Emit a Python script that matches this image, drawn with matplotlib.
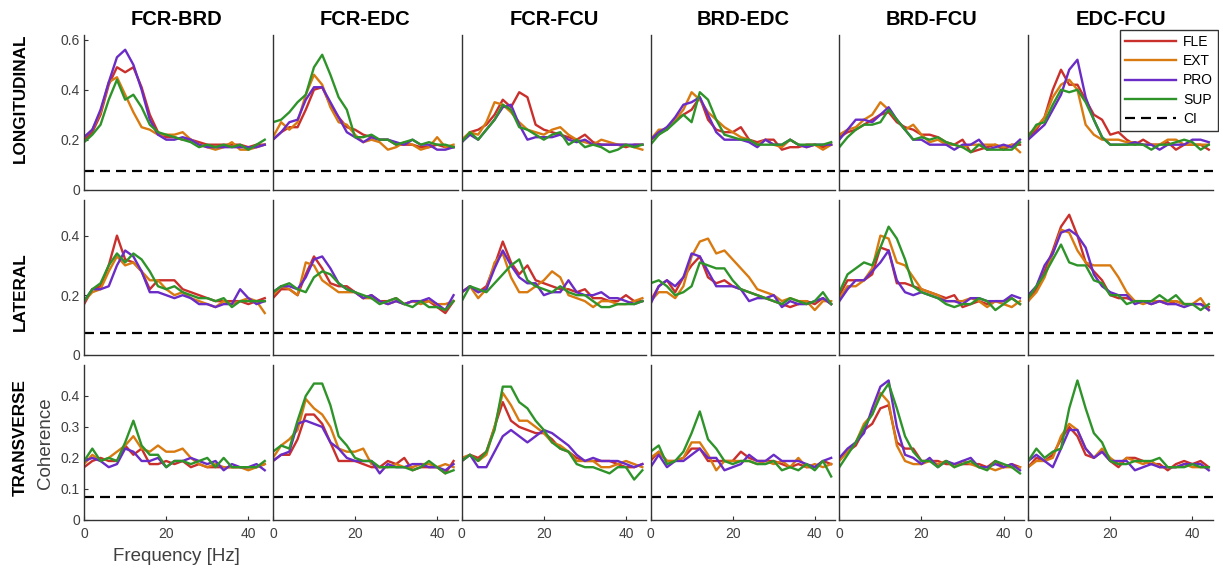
import numpy as np
import matplotlib.pyplot as plt

plt.rcParams['font.family'] = ['Liberation Sans', 'DejaVu Sans']

# frequency axis (Hz), sampled every 2 Hz
freq = np.arange(0, 45, 2)

pairs = ['FCR-BRD', 'FCR-EDC', 'FCR-FCU', 'BRD-EDC', 'BRD-FCU', 'EDC-FCU']
directions = ['LONGITUDINAL', 'LATERAL', 'TRANSVERSE']
conditions = ['FLE', 'EXT', 'PRO', 'SUP']
ci_level = 0.073

# LONGITUDINAL: one list per muscle pair (columns)
long_fle = [
    [0.20,0.23,0.30,0.42,0.49,0.47,0.49,0.41,0.30,0.23,0.21,0.21,0.20,0.20,0.19,0.18,0.18,0.18,0.18,0.18,0.17,0.18,0.18],
    [0.20,0.23,0.25,0.25,0.32,0.40,0.41,0.34,0.29,0.25,0.24,0.22,0.21,0.20,0.20,0.18,0.18,0.18,0.17,0.17,0.18,0.17,0.17],
    [0.19,0.23,0.24,0.26,0.30,0.36,0.33,0.39,0.37,0.26,0.24,0.23,0.22,0.21,0.20,0.22,0.19,0.18,0.18,0.18,0.17,0.18,0.18],
    [0.20,0.22,0.25,0.28,0.30,0.32,0.37,0.28,0.24,0.23,0.23,0.25,0.20,0.19,0.20,0.20,0.16,0.17,0.17,0.18,0.18,0.17,0.18],
    [0.21,0.23,0.24,0.26,0.28,0.30,0.31,0.27,0.25,0.24,0.22,0.22,0.21,0.19,0.18,0.20,0.15,0.16,0.17,0.18,0.16,0.18,0.18],
    [0.21,0.24,0.29,0.40,0.48,0.42,0.42,0.36,0.30,0.28,0.22,0.23,0.20,0.18,0.20,0.18,0.18,0.19,0.16,0.18,0.18,0.18,0.16],
]
long_ext = [
    [0.21,0.24,0.31,0.43,0.45,0.38,0.31,0.25,0.24,0.22,0.22,0.22,0.23,0.20,0.18,0.17,0.16,0.17,0.19,0.16,0.16,0.17,0.18],
    [0.21,0.27,0.24,0.27,0.38,0.46,0.42,0.33,0.27,0.26,0.22,0.19,0.20,0.19,0.16,0.17,0.19,0.18,0.16,0.17,0.21,0.17,0.18],
    [0.20,0.23,0.22,0.27,0.35,0.34,0.31,0.27,0.24,0.23,0.22,0.24,0.25,0.22,0.20,0.19,0.18,0.20,0.19,0.18,0.18,0.17,0.16],
    [0.20,0.24,0.24,0.28,0.32,0.39,0.36,0.31,0.28,0.25,0.23,0.21,0.20,0.18,0.20,0.18,0.17,0.20,0.18,0.17,0.18,0.16,0.18],
    [0.22,0.24,0.25,0.28,0.30,0.35,0.32,0.28,0.24,0.26,0.22,0.19,0.20,0.18,0.18,0.17,0.18,0.18,0.18,0.18,0.17,0.18,0.15],
    [0.22,0.25,0.29,0.37,0.42,0.44,0.40,0.26,0.22,0.20,0.20,0.20,0.19,0.19,0.18,0.18,0.18,0.20,0.20,0.18,0.18,0.18,0.18],
]
long_pro = [
    [0.21,0.24,0.32,0.43,0.53,0.56,0.50,0.40,0.28,0.22,0.20,0.20,0.21,0.20,0.18,0.17,0.17,0.17,0.17,0.17,0.17,0.17,0.18],
    [0.20,0.23,0.27,0.28,0.36,0.41,0.41,0.35,0.29,0.23,0.21,0.19,0.21,0.20,0.20,0.19,0.18,0.20,0.18,0.18,0.16,0.16,0.17],
    [0.19,0.22,0.20,0.24,0.28,0.33,0.34,0.26,0.20,0.21,0.21,0.21,0.22,0.20,0.19,0.20,0.18,0.18,0.18,0.18,0.18,0.18,0.18],
    [0.20,0.23,0.25,0.29,0.34,0.35,0.37,0.30,0.23,0.20,0.20,0.20,0.19,0.17,0.20,0.18,0.18,0.20,0.18,0.17,0.18,0.18,0.18],
    [0.20,0.24,0.28,0.28,0.27,0.30,0.33,0.28,0.24,0.20,0.20,0.18,0.18,0.18,0.16,0.18,0.18,0.20,0.16,0.17,0.18,0.17,0.20],
    [0.20,0.23,0.26,0.32,0.38,0.48,0.52,0.37,0.28,0.21,0.18,0.18,0.18,0.19,0.18,0.18,0.16,0.18,0.18,0.18,0.20,0.20,0.19],
]
long_sup = [
    [0.19,0.22,0.26,0.36,0.44,0.36,0.38,0.33,0.26,0.23,0.22,0.21,0.20,0.19,0.17,0.18,0.17,0.18,0.17,0.18,0.16,0.18,0.20],
    [0.27,0.28,0.31,0.35,0.38,0.49,0.54,0.46,0.37,0.32,0.21,0.21,0.22,0.20,0.20,0.18,0.19,0.20,0.18,0.19,0.18,0.18,0.17],
    [0.19,0.23,0.20,0.24,0.28,0.34,0.32,0.25,0.24,0.22,0.20,0.22,0.23,0.18,0.20,0.17,0.18,0.17,0.15,0.16,0.18,0.17,0.18],
    [0.18,0.22,0.24,0.27,0.30,0.27,0.39,0.36,0.28,0.22,0.21,0.20,0.20,0.18,0.18,0.18,0.18,0.20,0.18,0.18,0.18,0.18,0.19],
    [0.17,0.21,0.24,0.26,0.26,0.27,0.32,0.28,0.24,0.20,0.21,0.20,0.21,0.19,0.18,0.17,0.15,0.18,0.16,0.16,0.16,0.16,0.19],
    [0.21,0.26,0.27,0.34,0.40,0.39,0.40,0.35,0.28,0.21,0.18,0.18,0.18,0.18,0.18,0.16,0.18,0.18,0.19,0.20,0.19,0.16,0.18],
]

# LATERAL
lat_fle = [
    [0.17,0.22,0.23,0.30,0.40,0.32,0.31,0.28,0.22,0.25,0.25,0.25,0.22,0.21,0.20,0.19,0.18,0.18,0.18,0.18,0.17,0.18,0.19],
    [0.19,0.22,0.22,0.20,0.27,0.33,0.29,0.24,0.23,0.23,0.21,0.19,0.20,0.18,0.18,0.19,0.17,0.18,0.18,0.18,0.16,0.14,0.18],
    [0.21,0.23,0.21,0.23,0.30,0.38,0.31,0.27,0.30,0.25,0.24,0.23,0.22,0.22,0.21,0.22,0.19,0.19,0.18,0.18,0.20,0.18,0.18],
    [0.18,0.23,0.25,0.21,0.26,0.30,0.33,0.26,0.24,0.25,0.23,0.22,0.21,0.20,0.19,0.18,0.17,0.16,0.17,0.18,0.17,0.19,0.17],
    [0.20,0.25,0.25,0.25,0.27,0.36,0.35,0.24,0.24,0.23,0.22,0.21,0.20,0.19,0.20,0.16,0.17,0.18,0.17,0.18,0.18,0.19,0.17],
    [0.18,0.22,0.28,0.35,0.43,0.47,0.40,0.31,0.28,0.25,0.20,0.19,0.19,0.18,0.18,0.17,0.18,0.17,0.18,0.17,0.17,0.17,0.16],
]
lat_ext = [
    [0.18,0.21,0.22,0.28,0.33,0.30,0.31,0.28,0.25,0.25,0.22,0.20,0.21,0.19,0.18,0.17,0.16,0.18,0.17,0.18,0.19,0.18,0.14],
    [0.20,0.23,0.22,0.20,0.31,0.30,0.25,0.23,0.21,0.21,0.21,0.19,0.19,0.18,0.17,0.18,0.17,0.18,0.17,0.18,0.17,0.17,0.18],
    [0.21,0.23,0.19,0.22,0.31,0.34,0.26,0.21,0.21,0.23,0.25,0.28,0.26,0.20,0.19,0.18,0.16,0.18,0.18,0.17,0.17,0.18,0.19],
    [0.18,0.21,0.21,0.19,0.23,0.33,0.38,0.39,0.34,0.35,0.32,0.29,0.26,0.22,0.21,0.20,0.18,0.19,0.18,0.18,0.15,0.18,0.18],
    [0.19,0.23,0.23,0.25,0.29,0.40,0.39,0.31,0.30,0.26,0.22,0.21,0.20,0.18,0.18,0.18,0.19,0.18,0.16,0.18,0.17,0.16,0.18],
    [0.18,0.21,0.26,0.34,0.42,0.41,0.35,0.31,0.30,0.30,0.30,0.26,0.21,0.18,0.17,0.18,0.18,0.18,0.18,0.17,0.17,0.19,0.15],
]
lat_pro = [
    [0.18,0.22,0.22,0.23,0.30,0.35,0.33,0.28,0.21,0.21,0.20,0.19,0.20,0.19,0.17,0.17,0.16,0.17,0.17,0.22,0.19,0.17,0.18],
    [0.21,0.23,0.23,0.22,0.26,0.32,0.33,0.29,0.24,0.22,0.21,0.19,0.20,0.18,0.17,0.18,0.17,0.18,0.18,0.19,0.17,0.15,0.20],
    [0.21,0.23,0.21,0.22,0.29,0.35,0.30,0.26,0.24,0.24,0.20,0.21,0.21,0.25,0.21,0.20,0.20,0.21,0.19,0.19,0.18,0.17,0.18],
    [0.17,0.23,0.25,0.23,0.26,0.34,0.33,0.28,0.23,0.23,0.23,0.22,0.18,0.19,0.19,0.20,0.16,0.18,0.17,0.17,0.18,0.19,0.17],
    [0.18,0.22,0.25,0.25,0.28,0.31,0.35,0.25,0.21,0.20,0.21,0.20,0.19,0.18,0.18,0.17,0.19,0.19,0.18,0.18,0.18,0.20,0.19],
    [0.20,0.23,0.30,0.34,0.41,0.42,0.40,0.36,0.27,0.23,0.21,0.20,0.20,0.17,0.18,0.17,0.18,0.17,0.17,0.16,0.17,0.17,0.15],
]
lat_sup = [
    [0.18,0.22,0.24,0.30,0.34,0.31,0.34,0.32,0.28,0.23,0.22,0.23,0.21,0.20,0.19,0.19,0.18,0.19,0.16,0.18,0.18,0.18,0.18],
    [0.21,0.23,0.24,0.22,0.21,0.26,0.28,0.27,0.24,0.22,0.21,0.20,0.19,0.17,0.18,0.19,0.17,0.16,0.18,0.16,0.16,0.15,0.18],
    [0.18,0.23,0.22,0.21,0.24,0.27,0.30,0.32,0.25,0.23,0.22,0.21,0.23,0.21,0.20,0.20,0.18,0.16,0.16,0.17,0.17,0.17,0.18],
    [0.24,0.25,0.23,0.20,0.21,0.23,0.31,0.30,0.29,0.29,0.25,0.22,0.21,0.20,0.19,0.18,0.17,0.19,0.18,0.17,0.18,0.21,0.17],
    [0.21,0.27,0.29,0.31,0.30,0.36,0.43,0.39,0.32,0.23,0.21,0.20,0.19,0.17,0.16,0.17,0.17,0.19,0.18,0.15,0.17,0.19,0.17],
    [0.19,0.23,0.27,0.32,0.37,0.31,0.30,0.30,0.25,0.24,0.20,0.20,0.17,0.18,0.18,0.18,0.20,0.18,0.20,0.17,0.17,0.15,0.17],
]

# TRANSVERSE
trans_fle = [
    [0.17,0.19,0.20,0.19,0.19,0.24,0.21,0.23,0.18,0.18,0.19,0.18,0.19,0.17,0.18,0.17,0.17,0.17,0.17,0.17,0.17,0.17,0.18],
    [0.19,0.21,0.21,0.26,0.34,0.34,0.31,0.25,0.19,0.19,0.19,0.18,0.17,0.17,0.19,0.18,0.20,0.16,0.17,0.17,0.17,0.15,0.19],
    [0.19,0.21,0.20,0.22,0.30,0.38,0.32,0.30,0.29,0.28,0.28,0.26,0.23,0.22,0.20,0.19,0.19,0.19,0.19,0.18,0.17,0.17,0.18],
    [0.19,0.22,0.19,0.19,0.20,0.23,0.23,0.19,0.19,0.19,0.19,0.22,0.20,0.19,0.19,0.19,0.18,0.17,0.18,0.17,0.17,0.19,0.18],
    [0.20,0.22,0.24,0.29,0.31,0.36,0.37,0.25,0.23,0.23,0.19,0.19,0.19,0.18,0.18,0.18,0.18,0.18,0.17,0.19,0.17,0.18,0.17],
    [0.17,0.20,0.19,0.21,0.26,0.30,0.27,0.21,0.20,0.22,0.19,0.17,0.20,0.20,0.19,0.18,0.18,0.16,0.18,0.19,0.18,0.19,0.17],
]
trans_ext = [
    [0.18,0.21,0.19,0.20,0.22,0.24,0.27,0.23,0.22,0.24,0.22,0.22,0.23,0.20,0.18,0.17,0.18,0.17,0.17,0.17,0.16,0.17,0.18],
    [0.20,0.24,0.26,0.29,0.39,0.36,0.34,0.30,0.23,0.22,0.22,0.23,0.18,0.17,0.17,0.18,0.17,0.17,0.18,0.18,0.17,0.18,0.17],
    [0.20,0.21,0.19,0.21,0.30,0.41,0.37,0.32,0.32,0.30,0.28,0.25,0.24,0.22,0.19,0.19,0.19,0.17,0.17,0.18,0.19,0.18,0.17],
    [0.20,0.22,0.19,0.19,0.20,0.25,0.25,0.21,0.16,0.19,0.19,0.19,0.19,0.18,0.19,0.18,0.19,0.17,0.20,0.17,0.18,0.17,0.18],
    [0.19,0.22,0.25,0.31,0.34,0.41,0.38,0.24,0.19,0.18,0.18,0.19,0.18,0.19,0.17,0.19,0.18,0.17,0.17,0.16,0.17,0.17,0.17],
    [0.17,0.19,0.19,0.20,0.27,0.31,0.29,0.23,0.20,0.23,0.20,0.18,0.20,0.19,0.18,0.19,0.17,0.17,0.17,0.18,0.17,0.17,0.17],
]
trans_pro = [
    [0.19,0.20,0.19,0.17,0.18,0.23,0.22,0.19,0.19,0.20,0.17,0.19,0.19,0.20,0.19,0.18,0.19,0.16,0.18,0.17,0.17,0.18,0.16],
    [0.19,0.21,0.22,0.31,0.32,0.31,0.30,0.25,0.23,0.20,0.19,0.19,0.19,0.15,0.18,0.17,0.17,0.18,0.18,0.17,0.17,0.16,0.18],
    [0.19,0.21,0.17,0.17,0.22,0.27,0.29,0.27,0.25,0.27,0.29,0.28,0.26,0.24,0.21,0.19,0.20,0.19,0.19,0.19,0.18,0.17,0.18],
    [0.17,0.21,0.17,0.19,0.19,0.21,0.23,0.20,0.20,0.16,0.17,0.18,0.21,0.19,0.19,0.21,0.19,0.19,0.19,0.18,0.17,0.19,0.20],
    [0.20,0.23,0.25,0.28,0.36,0.43,0.45,0.30,0.21,0.20,0.18,0.20,0.17,0.19,0.18,0.19,0.20,0.17,0.17,0.18,0.17,0.18,0.16],
    [0.19,0.21,0.19,0.17,0.23,0.29,0.29,0.23,0.20,0.22,0.19,0.19,0.19,0.16,0.17,0.18,0.17,0.17,0.17,0.18,0.18,0.18,0.16],
]
trans_sup = [
    [0.19,0.23,0.19,0.20,0.19,0.25,0.32,0.24,0.21,0.21,0.17,0.19,0.19,0.18,0.19,0.20,0.17,0.20,0.17,0.17,0.17,0.17,0.19],
    [0.22,0.24,0.23,0.32,0.40,0.44,0.44,0.37,0.27,0.24,0.20,0.19,0.19,0.17,0.17,0.17,0.17,0.16,0.17,0.19,0.17,0.15,0.16],
    [0.19,0.21,0.19,0.22,0.29,0.43,0.43,0.38,0.36,0.32,0.29,0.25,0.23,0.22,0.18,0.17,0.17,0.16,0.15,0.17,0.17,0.13,0.16],
    [0.22,0.24,0.18,0.19,0.22,0.28,0.35,0.26,0.23,0.19,0.18,0.19,0.19,0.18,0.18,0.19,0.16,0.17,0.16,0.18,0.16,0.19,0.14],
    [0.17,0.21,0.25,0.30,0.34,0.40,0.44,0.36,0.27,0.22,0.19,0.19,0.17,0.19,0.17,0.18,0.19,0.17,0.16,0.19,0.18,0.17,0.15],
    [0.19,0.23,0.20,0.22,0.23,0.36,0.45,0.36,0.28,0.25,0.19,0.18,0.18,0.19,0.19,0.19,0.20,0.17,0.17,0.17,0.18,0.17,0.17],
]

rows = [
    [long_fle, long_ext, long_pro, long_sup],
    [lat_fle, lat_ext, lat_pro, lat_sup],
    [trans_fle, trans_ext, trans_pro, trans_sup],
]
colors = ['#C9302C', '#D97A10', '#6A2CC6', '#2E942A']
row_ylim = [0.62, 0.52, 0.50]
row_yticks = [[0, 0.2, 0.4, 0.6], [0, 0.2, 0.4], [0, 0.1, 0.2, 0.3, 0.4]]
axis_col = '#333333'
text_col = '#404040'

fig, axes = plt.subplots(3, 6, figsize=(12.19, 5.70), dpi=100)
fig.subplots_adjust(left=0.069, right=0.995, top=0.939, bottom=0.088,
                    wspace=0.022, hspace=0.066)

for r in range(3):
    for c in range(6):
        ax = axes[r, c]
        for k in range(4):
            ax.plot(freq, rows[r][k][c], color=colors[k], lw=1.7,
                    label=conditions[k])
        ax.axhline(ci_level, color='black', lw=1.6, dashes=(4.5, 2.7),
                   label='CI')
        ax.set_xlim(0, 45)
        ax.set_ylim(0, row_ylim[r])
        for s in ['top', 'right']:
            ax.spines[s].set_visible(False)
        for s in ['left', 'bottom']:
            ax.spines[s].set_color(axis_col)
            ax.spines[s].set_linewidth(1.0)
        ax.tick_params(direction='in', length=3, colors=axis_col,
                       labelcolor=text_col, labelsize=10)
        ax.tick_params(axis='x', pad=5)
        ax.tick_params(axis='y', pad=3)
        if r == 2:
            ax.set_xticks([0, 20, 40])
        else:
            ax.set_xticks([])
        if c == 0:
            ax.set_yticks(row_yticks[r])
            ax.set_yticklabels(['0'] + [f'{v:g}' for v in row_yticks[r][1:]])
        else:
            ax.set_yticks([])
        if r == 0:
            ax.set_title(pairs[c], fontsize=14.5, fontweight='bold', pad=7)

# legend in the top right corner
handles, labels = axes[0, 5].get_legend_handles_labels()
leg = fig.legend(handles, labels, loc='upper right',
                 bbox_to_anchor=(0.9995, 0.948), fontsize=10,
                 handlelength=3.7, handletextpad=0.5, labelspacing=0.38,
                 borderpad=0.38, borderaxespad=0, fancybox=False,
                 framealpha=1)
leg.get_frame().set_edgecolor(axis_col)
leg.get_frame().set_linewidth(1.0)

# row labels and axis labels
row_label_y = [0.828, 0.489, 0.233]
for r in range(3):
    fig.text(0.0164, row_label_y[r], directions[r], rotation=90,
             ha='center', va='center', fontsize=12.3, fontweight='bold')
fig.text(0.0377, 0.223, 'Coherence', rotation=90, ha='center', va='center',
         fontsize=13.5, color=text_col)
fig.text(0.1444, 0.023, 'Frequency [Hz]', ha='center', va='center',
         fontsize=13.5, color=text_col)

fig.savefig('out.png', dpi=100)
